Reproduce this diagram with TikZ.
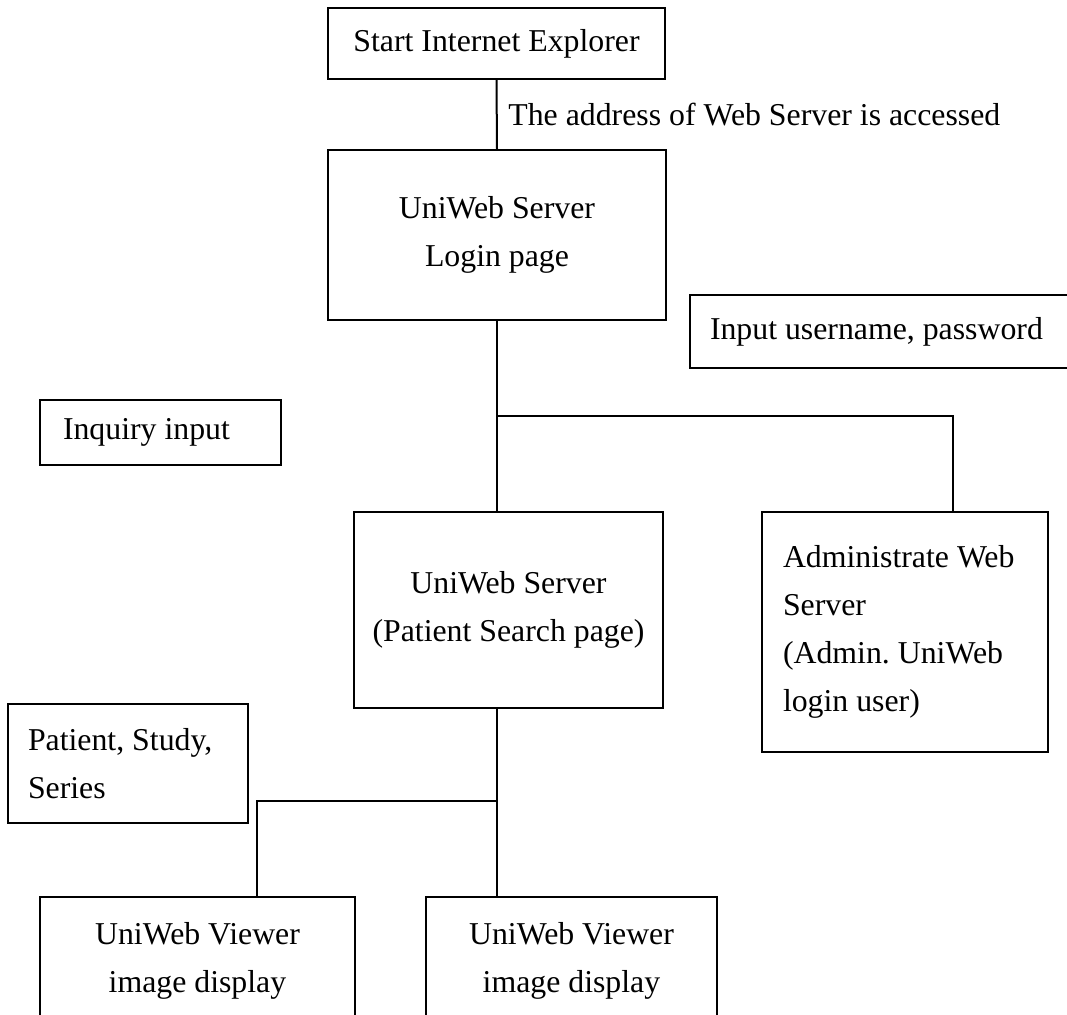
\documentclass[tikz,border=0pt]{standalone}
\usepackage{fontspec}
\setmainfont{Liberation Serif}
\begin{document}
\begin{tikzpicture}[x=0.5pt,y=-0.5pt,
  every node/.style={font=\fontsize{15.9}{24}\selectfont},
  box/.style={draw,line width=1pt,inner ysep=0pt,inner xsep=0pt},
  conn/.style={line width=1pt}]
\useasboundingbox (0,0) rectangle (1067,1014);
\clip (0,0) rectangle (1067,1014);

\node[box,minimum width=168.5pt,minimum height=35.5pt] (start) at (496.5,43.5) {Start Internet Explorer};
\node[box,minimum width=169pt,minimum height=85pt,align=center] (login) at (497,235) {UniWeb Server\\Login page};
\node[anchor=base west,inner sep=0pt] (addr) at (508,125) {The address of Web Server is accessed};
\node[box,text width=180pt,inner xsep=10pt,minimum height=36.5pt,align=flush left] (input) at (890,331.5) {Input~username,~password};
\node[box,minimum width=154.5pt,minimum height=98pt,align=center] (search) at (508.5,610) {UniWeb Server\\(Patient Search page)};
\node[box,text width=122pt,inner xsep=10.5pt,minimum height=120pt,align=flush left] (admin) at (905,632) {Administrate~Web\\Server\\(Admin.~UniWeb\\login~user)};
\node[box,text width=97.5pt,inner xsep=11.5pt,minimum height=32.5pt,align=flush left] (inquiry) at (160.5,432.5) {Inquiry~input};
\node[box,text width=100pt,inner xsep=10pt,minimum height=59.5pt,align=flush left] (pss) at (128,763.5) {Patient,~Study,\\Series};
\node[box,minimum width=157.5pt,minimum height=64pt,align=center] (view1) at (197.5,961) {UniWeb Viewer\\image display};
\node[box,minimum width=145.5pt,minimum height=64pt,align=center] (view2) at (571.5,961) {UniWeb Viewer\\image display};

\coordinate (j1) at (497,416);
\coordinate (ja) at (953,416);
\coordinate (j2) at (497,801);
\coordinate (jb) at (257,801);

\draw[conn] (start.south) -- (login.north);
\draw[conn] (login.south) -- (j1) -- (j1 |- search.north);
\draw[conn] (j1) -- (ja) -- (ja |- admin.north);
\draw[conn] (j2 |- search.south) -- (j2) -- (j2 |- view2.north);
\draw[conn] (j2) -- (jb) -- (jb |- view1.north);
\end{tikzpicture}
\end{document}
